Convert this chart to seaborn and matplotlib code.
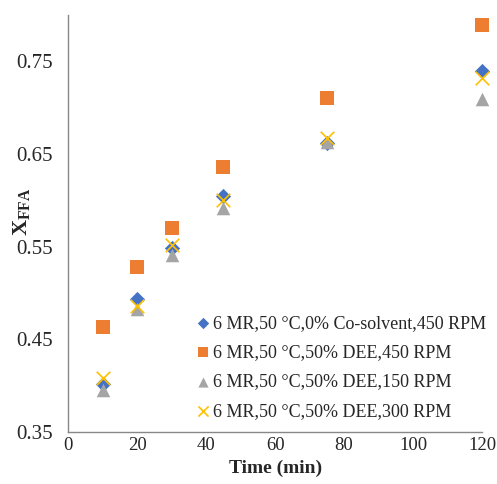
import matplotlib
matplotlib.use("Agg")
import matplotlib.pyplot as plt
import seaborn as sns
import pandas as pd

time_min = [10, 20, 30, 45, 75, 120]
series_names = [
    "6 MR,50 °C,0% Co-solvent,450 RPM",
    "6 MR,50 °C,50% DEE,450 RPM",
    "6 MR,50 °C,50% DEE,150 RPM",
    "6 MR,50 °C,50% DEE,300 RPM",
]
cosolvent0_450 = [0.402, 0.494, 0.549, 0.605, 0.662, 0.740]
dee50_450 = [0.463, 0.528, 0.570, 0.636, 0.710, 0.789]
dee50_150 = [0.396, 0.483, 0.541, 0.592, 0.663, 0.709]
dee50_300 = [0.409, 0.486, 0.552, 0.601, 0.667, 0.732]
x_ticks = [0, 20, 40, 60, 80, 100, 120]
y_ticks = [0.35, 0.45, 0.55, 0.65, 0.75]
y_tick_labels = ["0.35", "0.45", "0.55", "0.65", "0.75"]

rows = []
for name, vals in zip(series_names, [cosolvent0_450, dee50_450, dee50_150, dee50_300]):
    for t, v in zip(time_min, vals):
        rows.append({"Time": t, "X": v, "Series": name})
df = pd.DataFrame(rows)

sns.set_style("white")
plt.rcParams["font.family"] = ["Liberation Serif", "DejaVu Serif"]
plt.rcParams["mathtext.fontset"] = "custom"
plt.rcParams["mathtext.rm"] = "Liberation Serif"
plt.rcParams["mathtext.bf"] = "Liberation Serif:bold"

fig = plt.figure(figsize=(4.97, 4.84), dpi=100)
ax = fig.add_axes([0.137, 0.107, 0.833, 0.862])

palette = dict(zip(series_names, ["#4472C4", "#ED7D31", "#A5A5A5", "#FFC000"]))
markers = dict(zip(series_names, ["D", "s", "^", "x"]))
sizes = {series_names[0]: 60, series_names[1]: 105, series_names[2]: 95, series_names[3]: 95}

for name in series_names:
    sub = df[df["Series"] == name]
    sns.scatterplot(data=sub, x="Time", y="X", ax=ax, color=palette[name],
                    marker=markers[name], s=sizes[name],
                    linewidth=0 if markers[name] != "x" else 1.2,
                    label=name, clip_on=False, zorder=3)

ax.set_xlim(0, 120)
ax.set_ylim(0.35, 0.8)
ax.set_xticks(x_ticks)
ax.set_yticks(y_ticks)
ax.set_yticklabels(y_tick_labels)
ax.tick_params(axis="x", labelsize=13.5, length=0, pad=3.5)
ax.tick_params(axis="y", labelsize=15, length=0, pad=11)
for s in ["top", "right"]:
    ax.spines[s].set_visible(False)
for s in ["left", "bottom"]:
    ax.spines[s].set_color("#888888")
    ax.spines[s].set_linewidth(1.0)

ax.set_xlabel("Time (min)", fontsize=14, fontweight="bold", labelpad=4)
ax.set_ylabel(r"$\mathbf{X_{FFA}}$", fontsize=16)
ax.yaxis.set_label_coords(-0.087, 0.528)

leg = ax.legend(loc="lower right", bbox_to_anchor=(1.01, 0.03), frameon=False,
                fontsize=13, handletextpad=0.15, labelspacing=0.68,
                borderaxespad=0, borderpad=0, handlelength=0.8, markerscale=0.75)

fig.savefig("out.png", dpi=100)
